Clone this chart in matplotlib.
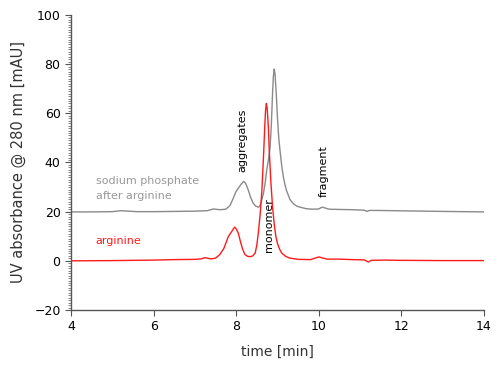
import numpy as np
import matplotlib
matplotlib.use('Agg')
import matplotlib.pyplot as plt
from matplotlib.ticker import MultipleLocator

# readings (time [min], absorbance [mAU])
gray_t = [4.0, 4.5, 5.0, 5.2, 5.4, 5.6, 6.0, 6.5, 7.0, 7.3, 7.45, 7.6, 7.75, 7.85, 7.93, 7.99,
          8.05, 8.12, 8.18, 8.23, 8.29, 8.35, 8.41, 8.47, 8.54, 8.58, 8.62, 8.66, 8.70, 8.74,
          8.78, 8.82, 8.85, 8.88, 8.90, 8.92, 8.94, 8.97, 9.00, 9.03, 9.06, 9.10, 9.14, 9.18,
          9.22, 9.26, 9.30, 9.38, 9.46, 9.55, 9.70, 9.85, 10.0, 10.05, 10.1, 10.15, 10.25,
          10.5, 10.8, 11.1, 11.17, 11.22, 11.4, 11.8, 12.2, 13.0, 14.0]
gray_v = [19.9, 19.9, 20.0, 20.4, 20.2, 20.0, 20.0, 20.1, 20.2, 20.4, 21.1, 20.8, 21.0, 22.5,
          25.5, 28.0, 29.5, 31.2, 32.3, 31.5, 28.9, 25.8, 23.5, 22.3, 21.8, 22.6, 24.8, 27.5,
          31.5, 37.0, 41.0, 46.0, 55.0, 68.0, 75.0, 78.0, 76.0, 68.0, 58.0, 50.0, 45.0, 39.0,
          34.3, 31.0, 28.5, 26.8, 25.0, 23.3, 22.3, 21.8, 21.2, 21.0, 21.1, 21.6, 21.8, 21.5,
          21.0, 20.9, 20.8, 20.6, 20.1, 20.5, 20.5, 20.4, 20.3, 20.1, 19.9]

red_t = [4.0, 5.0, 6.0, 6.5, 7.0, 7.15, 7.25, 7.32, 7.4, 7.5, 7.6, 7.7, 7.81, 7.89, 7.96,
         8.0, 8.05, 8.1, 8.15, 8.21, 8.28, 8.34, 8.40, 8.46, 8.50, 8.54, 8.58, 8.62, 8.66,
         8.69, 8.71, 8.73, 8.75, 8.78, 8.80, 8.84, 8.88, 8.92, 8.96, 9.0, 9.05, 9.10, 9.2,
         9.3, 9.5, 9.8, 9.95, 10.0, 10.06, 10.2, 10.5, 10.8, 11.1, 11.2, 11.27, 11.6, 12.0,
         13.0, 14.0]
red_v = [0.0, 0.1, 0.3, 0.5, 0.6, 0.8, 1.3, 1.0, 0.8, 1.1, 2.5, 5.0, 9.9, 11.9, 13.7,
         13.0, 11.3, 8.0, 5.0, 2.6, 1.8, 1.7, 2.0, 3.2, 6.5, 12.0, 19.0, 28.0, 42.0,
         54.0, 61.0, 64.0, 62.0, 54.0, 45.0, 32.0, 22.0, 15.0, 10.0, 7.0, 4.8, 3.2, 1.8,
         1.1, 0.6, 0.5, 1.3, 1.6, 1.3, 0.7, 0.7, 0.5, 0.4, -0.5, 0.2, 0.3, 0.2,
         0.1, 0.1]

peak_names = ['aggregates', 'monomer', 'fragment']
peak_pos = [(8.14, 49.0), (8.79, 14.6), (10.13, 36.6)]

txt = '#333333'
fig = plt.figure(figsize=(5, 3.71), dpi=100)
ax = fig.add_axes([0.142, 0.1644, 0.826, 0.7952])

ax.plot(gray_t, gray_v, color='#8a8a8a', lw=1.0)
ax.plot(red_t, red_v, color='#ff1a1a', lw=1.0)

ax.text(4.6, 32.5, 'sodium phosphate', color='#999999', fontsize=8, va='center')
ax.text(4.6, 26.4, 'after arginine', color='#999999', fontsize=8, va='center')
ax.text(4.6, 8.1, 'arginine', color='#ff1a1a', fontsize=8, va='center')
for name, (x, y) in zip(peak_names, peak_pos):
    ax.text(x, y, name, rotation=90, fontsize=8, color='black', ha='center', va='center')

ax.set_xlim(4, 14)
ax.set_ylim(-20, 100)
ax.xaxis.set_major_locator(MultipleLocator(2))
ax.yaxis.set_major_locator(MultipleLocator(20))
ax.yaxis.set_minor_locator(MultipleLocator(1))
ax.spines['top'].set_visible(False)
ax.spines['right'].set_visible(False)
for s in ['left', 'bottom']:
    ax.spines[s].set_color('#555555')
    ax.spines[s].set_linewidth(1.0)
ax.tick_params(axis='both', which='major', direction='out', length=4, width=0.8,
               colors='#555555', labelcolor='black', labelsize=9)
ax.tick_params(axis='y', which='minor', direction='out', length=2.5, width=0.5, colors='#555555')
ax.set_xlabel('time [min]', fontsize=10, color=txt, labelpad=8)
ax.set_ylabel('UV absorbance @ 280 nm [mAU]', fontsize=10.5, color=txt, labelpad=6)

fig.savefig('out.png', dpi=100)
